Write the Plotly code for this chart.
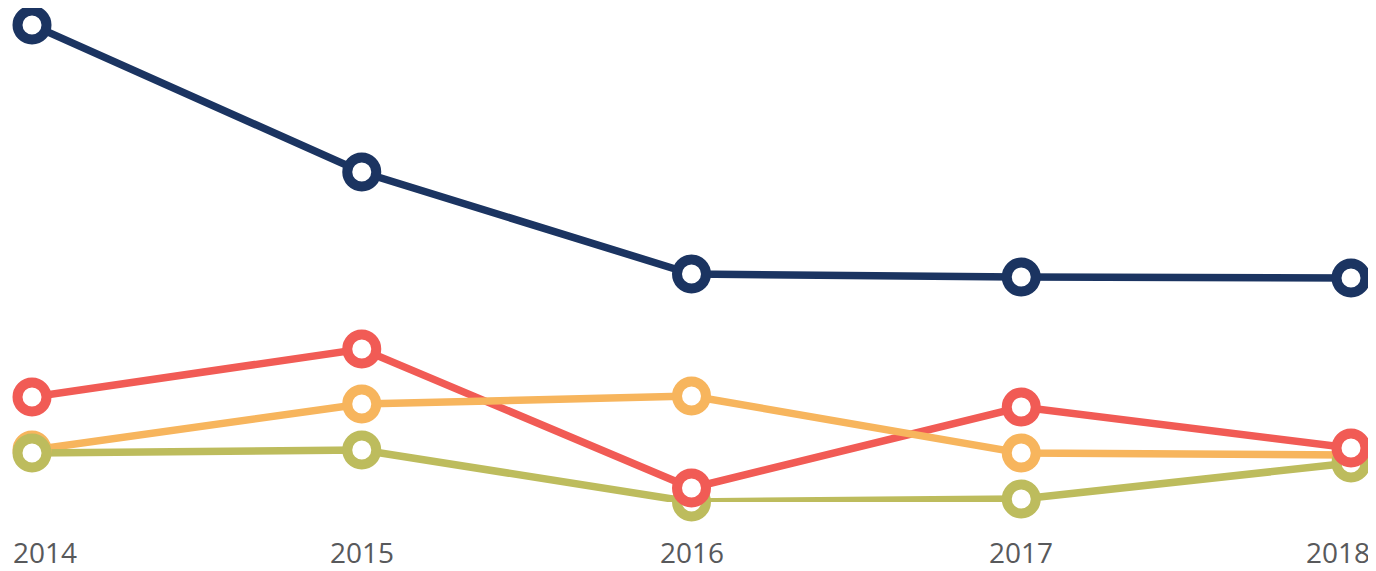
import plotly.graph_objects as go

years = ["2014", "2015", "2016", "2017", "2018"]
navy = [101.0, 71.6, 51.2, 50.6, 50.4]
red = [26.6, 36.2, 8.4, 24.6, 16.4]
orange = [16.0, 25.2, 26.8, 15.4, 15.0]
green = [15.4, 16.0, 5.6, 6.2, 13.4]

series = [
    ("navy", navy, "#1b3461"),
    ("red", red, "#f15b55"),
    ("orange", orange, "#f7b55d"),
    ("green", green, "#bdbc5d"),
]
marker_order = ["navy", "orange", "green", "red"]

x = list(range(len(years)))
fig = go.Figure()
for name, vals, col in series:
    fig.add_trace(go.Scatter(x=x, y=vals, mode="lines", name=name,
                             line=dict(color=col, width=7.5), hoverinfo="skip"))
lookup = {n: (v, c) for n, v, c in series}
for name in marker_order:
    vals, col = lookup[name]
    fig.add_trace(go.Scatter(x=x, y=vals, mode="markers", name=name,
                             marker=dict(size=29, color="white",
                                         line=dict(color=col, width=10)),
                             cliponaxis=False))

allv = navy + red + orange + green
ymin, ymax = min(allv), max(allv)

annotations = []
shifts = [13, 0, 0, 0, -13]
for i, lab in enumerate(years):
    annotations.append(dict(x=i, y=0, xref="x", yref="paper", text=lab,
                            showarrow=False, xanchor="center", yanchor="middle",
                            yshift=-50, xshift=shifts[i], borderpad=0,
                            font=dict(family="Open Sans", size=28, color="#58595b")))

fig.update_layout(
    width=1368, height=563,
    margin=dict(l=24, r=25, t=17, b=69),
    paper_bgcolor="white", plot_bgcolor="white",
    showlegend=False,
    xaxis=dict(range=[0, len(years) - 1], showgrid=False, zeroline=False,
               showticklabels=False, showline=False),
    yaxis=dict(range=[ymin, ymax], showgrid=False, zeroline=False,
               showticklabels=False, showline=False),
    annotations=annotations,
)
fig.write_html("out.html")
